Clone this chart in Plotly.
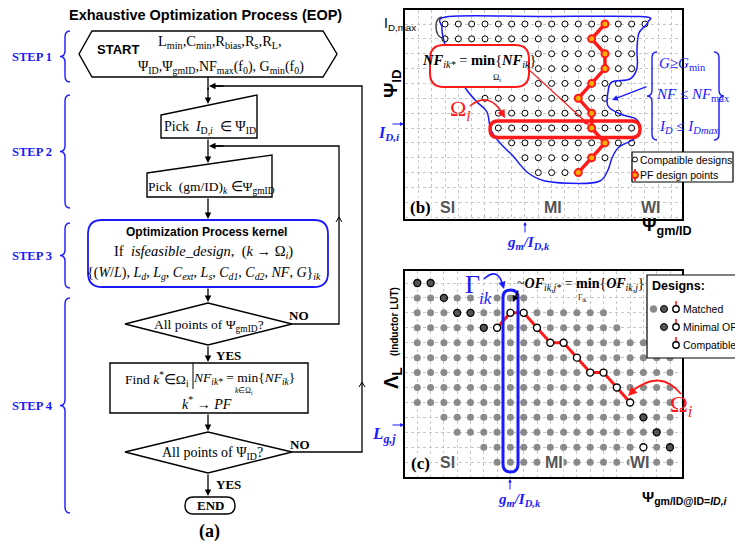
import plotly.graph_objects as go

# ---------------- data ----------------
# (b) design grid in the (gm/ID , ID) plane; row 0 is I_D,max, rows go down in current
B_COL_START = [0, 0, 7, 7, 7, 3, 4, 4, 5, 6, 7]
B_COL_END = [15, 14, 14, 14, 13, 12, 13, 14, 14, 12, 10]
B_PF_COL = [12, 11, 12, 12, 11, 10, 11, 11, 12, 11, 10]
B_IDMAX_ROW = 0
B_IDI_ROW = 7
B_GMID_COL = 6

# (c) inductor look-up table scanned at I_D = I_D,i
C_MATCH_START = [None, 0, 0, 0, 0, 0, 0, 0, 0, 2, 3, 5, 6]
C_MATCH_END = [None, 8, 14, 15, 17, 19, 19, 19, 19, 19, 19, 19, 19]
C_MATCH_SKIP = [(5, 1)]
C_PF_COL = [6, 7, 8, 9, 10, 11, 12, 13, 14, 15, 16]
C_PF_ROW = [3, 2, 2, 3, 4, 4, 5, 6, 6, 7, 8]
C_MIN_COL = [0, 1, 2, 3, 4, 5, 17, 18, 19]
C_MIN_ROW = [0, 0, 1, 2, 2, 3, 9, 10, 11]
C_COMPAT_COL = [17]
C_COMPAT_ROW = [11]
C_LGJ_ROW = 10
C_GMID_COL = 7

# ---------------- layout constants ----------------
PX_W, PX_H = 735, 548
B_FRAME = (405, 682, 10, 219)
B_ORIGIN, B_STEP = (445, 24), (13.33, 14.86)
C_FRAME = (405, 682, 271, 477)
C_ORIGIN, C_STEP = (417.3, 283), (13.3, 14.93)

SERIF = "Liberation Serif, Times New Roman, serif"
SANS = "Liberation Sans, Arial, sans-serif"
BLUE = "#1a1aff"
RED = "#ff1a1a"

shapes, ann = [], []


def axis_geom(frame, origin, step):
    l, r, t, b = frame
    xr = [(l - origin[0]) / step[0], (r - origin[0]) / step[0]]
    yr = [(b - origin[1]) / step[1], (t - origin[1]) / step[1]]
    dx = [l / PX_W, r / PX_W]
    dy = [1 - b / PX_H, 1 - t / PX_H]
    return xr, yr, dx, dy


def txt(x, y, s, size=14, color="black", family=SERIF, xa="center", ya="middle",
        angle=0, bg=None):
    d = dict(x=x, y=y, xref="x", yref="y", text=s, showarrow=False,
             font=dict(size=size, color=color, family=family),
             xanchor=xa, yanchor=ya, textangle=angle, borderpad=0)
    if bg:
        d["bgcolor"] = bg
    ann.append(d)


def arrow(x0, y0, x1, y1, color="black", width=1.3, head=2, size=1.0):
    ann.append(dict(x=x1, y=y1, ax=x0, ay=y0, xref="x", yref="y", axref="x",
                    ayref="y", text="", showarrow=True, arrowhead=head,
                    arrowsize=size, arrowwidth=width, arrowcolor=color,
                    standoff=0, startstandoff=0))


def path(d, color="black", width=1.3, fill=None, dash=None):
    line = dict(color=color, width=width)
    if dash:
        line["dash"] = dash
    s = dict(type="path", path=d, xref="x", yref="y", line=line, layer="above")
    if fill:
        s["fillcolor"] = fill
    shapes.append(s)


def poly(pts, closed=True):
    d = "M" + " L".join(f"{x},{y}" for x, y in pts)
    return d + (" Z" if closed else "")


def rrect(x0, y0, x1, y1, r):
    return (f"M{x0+r},{y0} L{x1-r},{y0} Q{x1},{y0} {x1},{y0+r} L{x1},{y1-r} "
            f"Q{x1},{y1} {x1-r},{y1} L{x0+r},{y1} Q{x0},{y1} {x0},{y1-r} "
            f"L{x0},{y0+r} Q{x0},{y0} {x0+r},{y0} Z")


def brace(xt, xs, xe, y0, y1, d=5):
    ym = (y0 + y1) / 2
    return (f"M{xe},{y0} Q{xs},{y0} {xs},{y0+d} L{xs},{ym-d} Q{xs},{ym} {xt},{ym} "
            f"Q{xs},{ym} {xs},{ym+d} L{xs},{y1-d} Q{xs},{y1} {xe},{y1}")


def smooth(pts, closed=True):
    n = len(pts)
    d = f"M{pts[0][0]:.1f},{pts[0][1]:.1f}"
    for i in range(n if closed else n - 1):
        p0 = pts[(i - 1) % n]
        p1 = pts[i]
        p2 = pts[(i + 1) % n]
        p3 = pts[(i + 2) % n]
        c1 = (p1[0] + (p2[0] - p0[0]) / 6, p1[1] + (p2[1] - p0[1]) / 6)
        c2 = (p2[0] - (p3[0] - p1[0]) / 6, p2[1] - (p3[1] - p1[1]) / 6)
        d += (f" C{c1[0]:.1f},{c1[1]:.1f} {c2[0]:.1f},{c2[1]:.1f} "
              f"{p2[0]:.1f},{p2[1]:.1f}")
    return d + (" Z" if closed else "")


# ======================= (a) flowchart =======================
txt(205, 15, "<b>Exhaustive Optimization Process (EOP)</b>", 14.5, family=SANS)

# step braces and labels
for label, y0, y1 in [("STEP 1", 31, 82), ("STEP 2", 95, 208),
                      ("STEP 3", 223, 288), ("STEP 4", 298, 513)]:
    path(brace(60, 65, 70, y0, y1, 6), BLUE, 1.4)
    txt(32, (y0 + y1) / 2, f"<b>{label}</b>", 12.5, BLUE, SERIF)

# START block
path(poly([(79, 54), (92, 31), (323, 31), (337, 54), (323, 77), (92, 77)]), width=1.4)
txt(118, 49, "<b>START</b>", 13, family=SANS)
txt(220, 42, "L<sub>min</sub>,C<sub>min</sub>,R<sub>bias</sub>,R<sub>s</sub>,R<sub>L</sub>,", 14.5)
txt(221, 67, "Ψ<sub>ID</sub>,Ψ<sub>gmID</sub>,NF<sub>max</sub>(f<sub>0</sub>), "
             "G<sub>min</sub>(f<sub>0</sub>)", 14)

# manual-input blocks
path(poly([(161, 115), (257, 95), (257, 138), (161, 138)]), width=1.4)
txt(210, 127, "Pick  <i>I</i><sub>D,<i>i</i></sub>  ∈ Ψ<sub>ID</sub>", 14)
path(poly([(147, 173), (272, 155), (272, 197), (147, 197)]), width=1.4)
txt(211, 187, "Pick  (gm/ID)<sub><i>k</i></sub> ∈Ψ<sub>gmID</sub>", 13.5)

# optimisation kernel
path(rrect(88, 220, 328, 287, 14), BLUE, 1.8)
txt(206, 232, "<b>Optimization Process kernel</b>", 12, family=SANS)
txt(203, 252, "If  <i>isfeasible_design</i>,  (<i>k</i> → Ω<sub><i>i</i></sub>)", 14.5)
txt(204, 273, "{(<i>W</i>/<i>L</i>), <i>L<sub>d</sub></i>, <i>L<sub>g</sub></i>, "
              "<i>C<sub>ext</sub></i>, <i>L<sub>s</sub></i>, <i>C<sub>d1</sub></i>, "
              "<i>C<sub>d2</sub></i>, <i>NF</i>, <i>G</i>}<sub><i>ik</i></sub>", 14)

# decision 1
path(poly([(125, 324), (208, 303), (292, 324), (208, 345)]), width=1.4)
txt(209, 325, "All points of Ψ<sub>gmID</sub>?", 13.5)
txt(299, 315, "<b>NO</b>", 13)
txt(228, 355, "<b>YES</b>", 13)

# selection block
path(poly([(110, 363), (308, 363), (308, 413), (110, 413)]), width=1.4)
path("M193,363 L193,389", width=1.0)
txt(157, 379, "Find <i>k</i><sup>*</sup>∈Ω<sub>i</sub>", 13.5)
txt(244, 378, "<i>NF<sub>ik*</sub></i> = min{<i>NF<sub>ik</sub></i>}", 13.5)
txt(244, 391, "<i>k</i>∈Ω<sub>i</sub>", 7.5)
txt(207, 403, "<i>k</i><sup>*</sup> → <i>PF</i>", 14)

# decision 2
path(poly([(125, 452), (208, 432), (292, 452), (208, 473)]), width=1.4)
txt(212, 453, "All points of Ψ<sub>ID</sub>?", 14)
txt(300, 444, "<b>NO</b>", 13)
txt(228, 484, "<b>YES</b>", 13)

# terminator
path(rrect(185, 497, 235, 514, 8.5), width=1.4)
txt(210, 505.5, "<b>END</b>", 13)
txt(209, 531, "<b>(a)</b>", 18)

# flow connectors
path("M208,77 L208,90", width=1.3)
arrow(208, 86, 208, 104)
arrow(208, 138, 208, 163)
arrow(208, 197, 208, 219)
arrow(208, 287, 208, 302)
arrow(208, 345, 208, 362)
arrow(208, 413, 208, 431)
arrow(208, 473, 208, 496)
# feedback loops
path("M292,324 L339,324 L339,146 L214,146", width=1.3)
arrow(225, 146, 209, 146)
path("M292,452 L362,452 L362,86 L214,86", width=1.3)
arrow(225, 86, 209, 86)
path("M336,222 L339,217 L342,222", width=1.0)
path("M359,387 L362,382 L365,387", width=1.0)

# ======================= (b) ID / gm-ID design space =======================
bxr, byr, bdx, bdy = axis_geom(B_FRAME, B_ORIGIN, B_STEP)
cxr, cyr, cdx, cdy = axis_geom(C_FRAME, C_ORIGIN, C_STEP)

bx, by = [], []
for r, (s, e) in enumerate(zip(B_COL_START, B_COL_END)):
    for c in range(s, e + 1):
        bx.append(c)
        by.append(r)
b_rows = list(range(len(B_PF_COL)))

# reference lines tied to the grid
shapes.append(dict(type="line", xref="paper", yref="y2", x0=415 / PX_W, x1=B_FRAME[1] / PX_W,
                   y0=B_IDMAX_ROW, y1=B_IDMAX_ROW, line=dict(color="black", width=3),
                   layer="below"))
shapes.append(dict(type="line", xref="x2", yref="paper", x0=B_GMID_COL, x1=B_GMID_COL,
                   y0=1 - 219 / PX_H, y1=1 - 11 / PX_H,
                   line=dict(color=BLUE, width=1.5, dash="dot"), layer="below"))
shapes.append(dict(type="line", xref="paper", yref="y2", x0=403 / PX_W, x1=650 / PX_W,
                   y0=B_IDI_ROW, y1=B_IDI_ROW,
                   line=dict(color=BLUE, width=1.5, dash="dot"), layer="below"))

# feasible region outline
contour = [(442, 28), (449, 16.5), (540, 16.5), (640, 16.5), (648, 22), (639, 33),
           (637, 50), (637, 68), (630, 79), (612, 82), (608, 92), (608, 106),
           (620, 114), (636, 119), (640, 129), (634, 139), (619, 147), (612, 158),
           (608, 170), (600, 181), (580, 183.5), (545, 181), (527, 172), (513, 156),
           (500, 143), (491, 130), (487, 112), (477, 102), (466, 89), (455, 70),
           (446, 48)]
path(smooth(contour), BLUE, 1.5)
path("M442,17 Q436,18 436,26 Q436,36 442,38", "#444", 1.5)

# NF box and pointer
path(rrect(430, 45, 529, 87, 14), RED, 2, fill="white")
txt(479, 61, "<b><i>NF</i></b><sub><i>ik*</i></sub> = <b>min</b>{<b><i>NF</i></b><sub><i>ik</i></sub>}", 14.5)
txt(497, 77, "Ω<sub>i</sub>", 8.5)
arrow(526, 67, 589, 125, RED, 1.3, 2, 0.8)

# I_D,i row frame
path(rrect(490, 121, 640, 137.5, 8), RED, 3.5)

# Ω_i label and arrow
txt(460, 110, "Ω<sub><i>l</i></sub>", 22, RED)
path("M470,106 Q490,90 504,116", RED, 1.6)
arrow(501, 111, 505, 118, RED, 1.6, 2, 1.0)

# constraint set
path(brace(647, 652, 657, 52, 140, 6), BLUE, 1.4)
path(brace(724, 719, 714, 52, 140, 6), BLUE, 1.4)
txt(658, 64, "<i>G</i>≥<i>G</i><sub>min</sub>", 15, BLUE, xa="left")
txt(655, 95, "<i>NF</i> ≤ <i>NF</i><sub>max</sub>", 15, BLUE, xa="left")
txt(658, 127, "<i>I<sub>D</sub></i> ≤ <i>I<sub>Dmax</sub></i>", 15, BLUE, xa="left")
arrow(648, 86, 612, 100, BLUE, 1.3, 2, 0.9)

# legend (b)
path(poly([(632, 152), (733, 152), (733, 182), (632, 182)]), "black", 1.2, fill="white")
path(rrect(632.5, 157, 637.5, 162, 2.5), "black", 1.0, fill="white")
txt(639, 160, "Compatible designs", 10.5, family=SANS, xa="left")
path("M635,169 L635,181", RED, 1.8)
path(rrect(632, 172, 638, 178, 3), RED, 1.8, fill="#ffb000")
txt(639, 175, "PF design points", 10.5, family=SANS, xa="left")

# axis labels and regions
txt(383, 24, "I<sub>D,max</sub>", 14, family=SANS, xa="left")
txt(392, 84, "<b>Ψ<sub>ID</sub></b>", 19, family=SANS, angle=-90)
txt(389, 133, "<b><i>I<sub>D,i</sub></i></b>", 16, BLUE)
arrow(391, 124, 404, 124, BLUE, 1.1, 2, 0.7)
txt(420, 207, "<b>(b)</b>", 17, bg="white")
txt(447, 207, "<b>SI</b>", 16, "#555", SANS, bg="white")
txt(553, 207, "<b>MI</b>", 16, "#555", SANS, bg="white")
txt(651, 207, "<b>WI</b>", 16, "#555", SANS, bg="white")
arrow(525, 234, 525, 222, BLUE, 1.0, 2, 0.7)
txt(528, 243, "<b><i>g<sub>m</sub>/I<sub>D,k</sub></i></b>", 15, BLUE)
txt(641, 226, "<b>Ψ<sub>gm/ID</sub></b>", 18, family=SANS, xa="left")

# ======================= (c) inductor LUT =======================
cmx, cmy = [], []
for r, (s, e) in enumerate(zip(C_MATCH_START, C_MATCH_END)):
    if s is None:
        continue
    for c in range(s, e + 1):
        if (c, r) in C_MATCH_SKIP:
            continue
        cmx.append(c)
        cmy.append(r)

shapes.append(dict(type="line", xref="x3", yref="paper", x0=C_GMID_COL, x1=C_GMID_COL,
                   y0=1 - 477 / PX_H, y1=1 - 272 / PX_H,
                   line=dict(color=BLUE, width=1.5, dash="dot"), layer="below"))
shapes.append(dict(type="line", xref="paper", yref="y3", x0=403 / PX_W, x1=C_FRAME[1] / PX_W,
                   y0=C_LGJ_ROW, y1=C_LGJ_ROW,
                   line=dict(color=BLUE, width=1.5, dash="dot"), layer="below"))

# Γ_ik column frame
path(rrect(503, 290, 518, 472, 7.5), BLUE, 3)
txt(472, 284, "Γ", 26, BLUE)
txt(485, 298, "<i>ik</i>", 17, BLUE)
path("M484,279 Q498,266 503,286", BLUE, 1.6)
arrow(502, 282, 504, 289, BLUE, 1.6, 2, 0.9)

# objective annotation
txt(516, 284, "~<b><i>OF</i></b><sub><i>ik,j*</i></sub> = <b>min</b>{<b><i>OF</i></b><sub><i>ik,j</i></sub>}",
    14, xa="left")
txt(582, 298, "Γ<sub>ik</sub>", 7.5)
arrow(519, 289, 513, 302, "black", 1.3, 2, 1.0)

# Ω_i label (c)
txt(681, 406, "Ω<sub><i>i</i></sub>", 24, RED)
path("M681,394 Q660,368 631,392", RED, 1.8)
arrow(636, 388, 628, 396, RED, 2, 2, 0.9)

# legend (c)
path(poly([(647, 275), (740, 275), (740, 358), (647, 358)]), "black", 1.2, fill="white")
txt(651, 286, "<b>Designs:</b>", 12.5, family=SANS, xa="left")
for yy, syms, lab in [(309, 3, "Matched"), (327, 2, "Minimal OF"), (345, 1, "Compatible")]:
    path(f"M676,{yy-8} L676,{yy+8}", RED, 1.6, dash="dash")
    path(rrect(672.8, yy - 3.2, 679.2, yy + 3.2, 3.2), "black", 1.4, fill="white")
    if syms >= 2:
        path(rrect(660.5, yy - 3.5, 667.5, yy + 3.5, 3.5), "black", 1.0, fill="#555")
    if syms >= 3:
        path(rrect(650, yy - 3.5, 657, yy + 3.5, 3.5), "#8a8a8a", 0.5, fill="#8a8a8a")
    txt(682, yy, lab, 10.5, family=SANS, xa="left")

# axis labels and regions (c)
txt(392, 338, "<b>Λ<sub>L</sub></b>  <b><span style='font-size:10px'>(Inductor LUT)</span></b>",
    20, family=SANS, angle=-90)
txt(384, 435, "<b><i>L<sub>g,j</sub></i></b>", 17, BLUE)
arrow(391, 425, 404, 425, BLUE, 1.1, 2, 0.7)
txt(420, 463, "<b>(c)</b>", 17, bg="white")
txt(447, 462, "<b>SI</b>", 16, "#555", SANS, bg="white")
txt(554, 462, "<b>MI</b>", 16, "#555", SANS, bg="white")
txt(640, 462, "<b>WI</b>", 16, "#555", SANS, bg="white")
arrow(510, 491, 510, 479, BLUE, 1.0, 2, 0.7)
txt(519, 500, "<b><i>g<sub>m</sub>/I<sub>D,k</sub></i></b>", 15, BLUE)
txt(641, 497, "<b>Ψ<sub>gm/ID@ID=<i>ID,i</i></sub></b>", 15, family=SANS, xa="left")

# ---------------- traces ----------------
fig = go.Figure()
fig.add_trace(go.Scatter(x=[0], y=[0], mode="markers", marker=dict(opacity=0),
                         hoverinfo="skip", xaxis="x", yaxis="y"))
fig.add_trace(go.Scatter(x=bx, y=by, mode="markers", xaxis="x2", yaxis="y2",
                         marker=dict(size=6, color="white", line=dict(color="black", width=1)),
                         name="Compatible designs"))
fig.add_trace(go.Scatter(x=B_PF_COL, y=b_rows, mode="lines+markers", xaxis="x2", yaxis="y2",
                         line=dict(color=RED, width=3.5),
                         marker=dict(size=7, color="#ffb000", line=dict(color=RED, width=2)),
                         name="PF design points"))
fig.add_trace(go.Scatter(x=cmx, y=cmy, mode="markers", xaxis="x3", yaxis="y3",
                         marker=dict(size=7, color="#8a8a8a"), name="Matched"))
fig.add_trace(go.Scatter(x=C_MIN_COL, y=C_MIN_ROW, mode="markers", xaxis="x3", yaxis="y3",
                         marker=dict(size=7, color="#555", line=dict(color="black", width=1.3)),
                         name="Minimal OF"))
fig.add_trace(go.Scatter(x=C_COMPAT_COL, y=C_COMPAT_ROW, mode="markers", xaxis="x3", yaxis="y3",
                         marker=dict(size=7, color="white", line=dict(color="black", width=1.3)),
                         name="Compatible"))
fig.add_trace(go.Scatter(x=C_PF_COL, y=C_PF_ROW, mode="lines+markers", xaxis="x3", yaxis="y3",
                         line=dict(color=RED, width=3),
                         marker=dict(size=7, color="white", line=dict(color="black", width=1.4)),
                         name="PF"))

grid_axis = dict(showgrid=True, gridcolor="#c8c8c8", griddash="dot", gridwidth=1, dtick=1,
                 tick0=0, showticklabels=False, ticks="", zeroline=False, showline=True,
                 mirror=True, linecolor="black", linewidth=2, fixedrange=True)

fig.update_layout(
    width=PX_W, height=PX_H, autosize=False,
    margin=dict(l=0, r=0, t=0, b=0, pad=0),
    paper_bgcolor="white", plot_bgcolor="white", showlegend=False,
    xaxis=dict(domain=[0, 1], range=[0, PX_W], visible=False, fixedrange=True),
    yaxis=dict(domain=[0, 1], range=[PX_H, 0], visible=False, fixedrange=True),
    xaxis2=dict(domain=bdx, range=bxr, anchor="y2", **grid_axis),
    yaxis2=dict(domain=bdy, range=byr, anchor="x2", **grid_axis),
    xaxis3=dict(domain=cdx, range=cxr, anchor="y3", **grid_axis),
    yaxis3=dict(domain=cdy, range=cyr, anchor="x3", **grid_axis),
    shapes=shapes, annotations=ann,
)

fig.write_html("out.html")
